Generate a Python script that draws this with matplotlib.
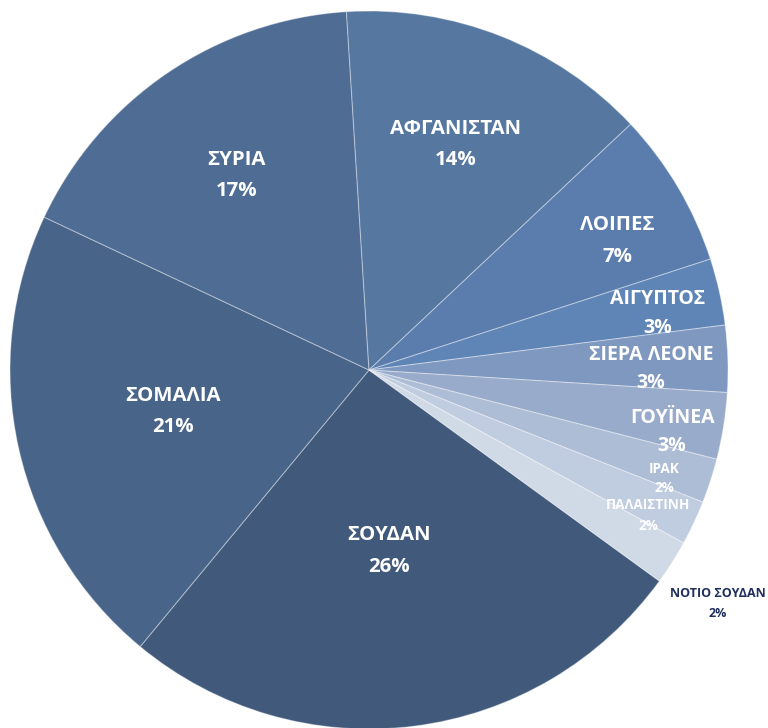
import numpy as np
import matplotlib
matplotlib.use("Agg")
import matplotlib.pyplot as plt

plt.rcParams["font.family"] = ["Open Sans", "DejaVu Sans"]

# Share of applicants by country of origin (%)
countries = ["ΣΟΥΔΑΝ", "ΣΟΜΑΛΙΑ", "ΣΥΡΙΑ", "ΑΦΓΑΝΙΣΤΑΝ", "ΛΟΙΠΕΣ", "ΑΙΓΥΠΤΟΣ",
             "ΣΙΕΡΑ ΛΕΟΝΕ", "ΓΟΥΪΝΕΑ", "ΙΡΑΚ", "ΠΑΛΑΙΣΤΙΝΗ", "ΝΟΤΙΟ ΣΟΥΔΑΝ"]
shares = [26, 21, 17, 14, 7, 3, 3, 3, 2, 2, 2]

colors = ["#415a7c", "#486489", "#4e6c94", "#5677a0", "#5b7dad", "#5f84b6",
          "#7f98bf", "#98abcb", "#aebdd6", "#c0ccdf", "#d0d9e6"]
# label layout: distance from centre (fraction of radius), angular nudge (deg),
# font size and half spacing between the name and the percentage (px)
label_r = [0.50, 0.555, 0.663, 0.68, 0.783, 0.822, 0.786, 0.86, 0.872, 0.872, 1.165]
label_da = [-0.8, -1.6, -0.3, 0.9, -2.6, -0.9, -1.0, -2.0, -1.6, -1.8, -1.0]
label_fs = [14.7, 14.7, 14.7, 14.7, 14.7, 14, 14, 14, 9.8, 9.8, 9]
label_gap = [16, 15.5, 15.5, 15.5, 16, 14.5, 14, 14, 9.5, 10.5, 10]

W, H = 768, 728
cx, cy, R = 369, H - 370, 359

fig = plt.figure(figsize=(W / 100, H / 100), dpi=100)
ax = fig.add_axes([0, 0, 1, 1])

wedges, _ = ax.pie(shares, colors=colors, startangle=-36, counterclock=False,
                   center=(cx, cy), radius=R, frame=True,
                   wedgeprops=dict(edgecolor=(1, 1, 1, 0.35), linewidth=0.8))
ax.set_xlim(0, W)
ax.set_ylim(0, H)
ax.set_aspect("equal")
ax.axis("off")

for w, name, val, r, da, fs, gap in zip(wedges, countries, shares, label_r,
                                        label_da, label_fs, label_gap):
    mid = np.deg2rad((w.theta1 + w.theta2) / 2 + da)
    x = cx + r * R * np.cos(mid)
    y = cy + r * R * np.sin(mid) - 3
    col = "white" if r < 1 else "#1f2f5c"
    ax.text(x, y + gap, name, ha="center", va="center", fontsize=fs,
            fontweight="bold", color=col)
    ax.text(x, y - gap, f"{val}%", ha="center", va="center", fontsize=fs,
            fontweight="bold", color=col)

fig.savefig("out.png", dpi=100)
